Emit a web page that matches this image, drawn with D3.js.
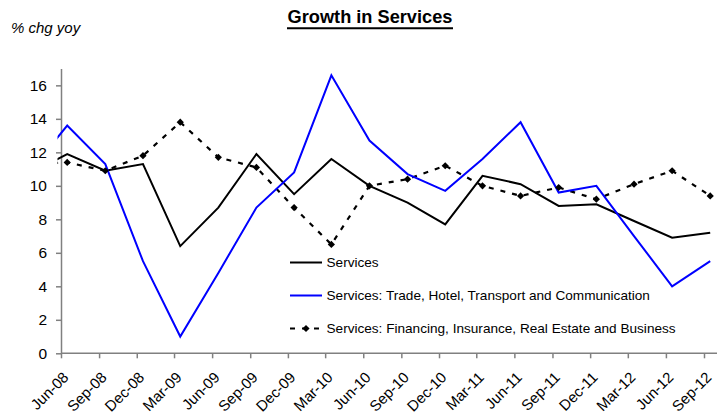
<!DOCTYPE html>
<html>
<head>
<meta charset="utf-8">
<title>Growth in Services</title>
<script src="https://cdn.jsdelivr.net/npm/d3@7"></script>
<style>
  body { margin: 0; background: #fff; }
  svg { font-family: "Liberation Sans", Arial, sans-serif; }
</style>
</head>
<body>
<svg width="725" height="414"></svg>
<script>
// quarters (Mar-08 is only the lead-in segment clipped at the axis)
var quarters = ["Mar-08","Jun-08","Sep-08","Dec-08","Mar-09","Jun-09","Sep-09","Dec-09","Mar-10",
                "Jun-10","Sep-10","Dec-10","Mar-11","Jun-11","Sep-11","Dec-11","Mar-12","Jun-12","Sep-12"];
var tickLabels = quarters.slice(1);

var services = [10.7, 11.9, 10.9, 11.3, 6.4, 8.7, 11.9, 9.5, 11.6, 10.0, 9.0, 7.7, 10.6, 10.1, 8.8, 8.9, 7.9, 6.9, 7.2];
var trade    = [10.8, 13.6, 11.3, 5.5, 1.0, 4.8, 8.7, 10.8, 16.6, 12.7, 10.7, 9.7, 11.6, 13.8, 9.6, 10.0, 7.0, 4.0, 5.5];
var finance  = [11.3, 11.4, 10.9, 11.8, 13.8, 11.7, 11.1, 8.7, 6.5, 10.0, 10.4, 11.2, 10.0, 9.4, 9.9, 9.2, 10.1, 10.9, 9.4];

var yTicks = [0, 2, 4, 6, 8, 10, 12, 14, 16];

var seriesNames = ["Services",
                   "Services: Trade, Hotel, Transport and Communication",
                   "Services: Financing, Insurance, Real Estate and Business"];

var svg = d3.select("svg");
var parseQ = d3.timeParse("%b-%y");

// ticks sit on the 1st of the month, values are plotted mid-month
var tickDates = tickLabels.map(parseQ);
var pointDates = quarters.map(function(q){ return d3.timeDay.offset(parseQ(q), 15); });

var x = d3.scaleTime()
    .domain([tickDates[0], tickDates[tickDates.length - 1]])
    .range([61, 704]);
var y = d3.scaleLinear().domain([0, 17]).range([353.3, 68.6]);

var axisColor = "#808080";

// title
svg.append("text")
    .attr("x", 370).attr("y", 23)
    .attr("text-anchor", "middle")
    .style("font-size", "18.2px").style("font-weight", "bold")
    .text("Growth in Services");
svg.append("line")
    .attr("x1", 287).attr("x2", 453)
    .attr("y1", 28.3).attr("y2", 28.3)
    .attr("stroke", "#000").attr("stroke-width", 2);

svg.append("text")
    .attr("x", 11).attr("y", 33)
    .style("font-size", "15px").style("font-style", "italic")
    .text("% chg yoy");

svg.append("defs").append("clipPath").attr("id", "plot")
    .append("rect")
    .attr("x", 57.5).attr("y", 60)
    .attr("width", 717 - 57.5).attr("height", 300);

// y axis
var yAxis = svg.append("g")
    .attr("transform", "translate(61,0)")
    .call(d3.axisLeft(y).tickValues(yTicks).tickSize(5).tickSizeOuter(0).tickPadding(9));
yAxis.selectAll("text").style("font-size", "15.5px").attr("fill", "#000");

// x axis
var xAxis = svg.append("g")
    .attr("transform", "translate(0," + y(0) + ")")
    .call(d3.axisBottom(x).tickValues(tickDates).tickSize(5).tickSizeOuter(0)
        .tickFormat(function(d, i){ return tickLabels[i]; }));
xAxis.select(".domain").attr("d", "M61,0H717");
xAxis.selectAll("text")
    .style("font-size", "15px").attr("fill", "#000")
    .attr("text-anchor", "end")
    .attr("dy", null).attr("y", 0)
    .attr("transform", "translate(8,25) rotate(-45)");

svg.selectAll(".domain, .tick line")
    .attr("stroke", axisColor).attr("stroke-width", 1.5);

var line = d3.line()
    .x(function(d, i){ return x(pointDates[i]); })
    .y(function(d){ return y(d); });

var plot = svg.append("g").attr("clip-path", "url(#plot)");

plot.append("path").datum(finance)
    .attr("d", line).attr("fill", "none")
    .attr("stroke", "#000").attr("stroke-width", 2.2)
    .attr("stroke-dasharray", "5,7");

plot.append("path").datum(services)
    .attr("d", line).attr("fill", "none")
    .attr("stroke", "#000").attr("stroke-width", 2);

plot.append("path").datum(trade)
    .attr("d", line).attr("fill", "none")
    .attr("stroke", "#0000ff").attr("stroke-width", 2);

var diamond = d3.symbol().type(d3.symbolSquare).size(26);
plot.selectAll(".dm")
    .data(finance.slice(1))
    .enter().append("path")
    .attr("d", diamond)
    .attr("fill", "#000")
    .attr("transform", function(d, i){
        return "translate(" + x(pointDates[i + 1]) + "," + y(d) + ") rotate(45)";
    });

// legend
var legend = svg.append("g");
var rows = [
    {name: seriesNames[0], color: "#000", dash: null},
    {name: seriesNames[1], color: "#0000ff", dash: null},
    {name: seriesNames[2], color: "#000", dash: "5,7"}
];
rows.forEach(function(r, i){
    var ly = 262.5 + i * 33;
    legend.append("line")
        .attr("x1", 290).attr("x2", 322).attr("y1", ly).attr("y2", ly)
        .attr("stroke", r.color).attr("stroke-width", 2)
        .attr("stroke-dasharray", r.dash);
    if (r.dash) {
        legend.append("path").attr("d", diamond).attr("fill", "#000")
            .attr("transform", "translate(306," + ly + ") rotate(45)");
    }
    legend.append("text")
        .attr("x", 326.5).attr("y", ly + 4.8)
        .style("font-size", "13.6px")
        .text(r.name);
});
</script>
</body>
</html>
